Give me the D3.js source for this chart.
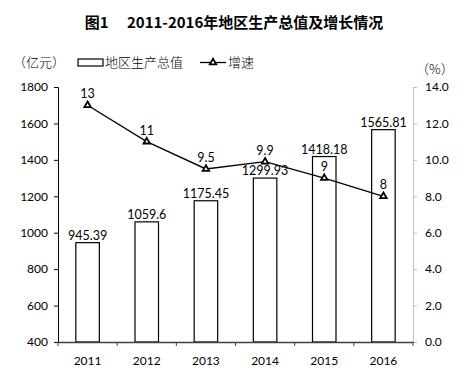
<!DOCTYPE html>
<html>
<head>
<meta charset="utf-8">
<script src="https://cdn.jsdelivr.net/npm/d3@7"></script>
<style>
body{margin:0;background:#fff;}
text{font-family:Lato,"Noto Sans CJK SC",sans-serif;}
</style>
</head>
<body>
<script>
var years = ["2011","2012","2013","2014","2015","2016"];
var gdp = [945.39,1059.6,1175.45,1299.93,1418.18,1565.81];
var growth = [13,11,9.5,9.9,9,8];
var leftTicks = [400,600,800,1000,1200,1400,1600,1800];
var rightTicks = [0,2,4,6,8,10,12,14];

var margin = {left:58,right:55,top:87,bottom:45};
var width = 468, height = 387;
var plotW = width - margin.left - margin.right;
var plotH = height - margin.top - margin.bottom;

var svg = d3.select("body").append("svg").attr("width",width).attr("height",height);

svg.append("text").attr("x",234).attr("y",28).attr("text-anchor","middle")
    .attr("font-size",15).attr("font-weight","bold")
    .style("font-family","'Noto Sans CJK SC',sans-serif")
    .text("图1\u3000 2011-2016年地区生产总值及增长情况");

var g = svg.append("g").attr("transform","translate("+margin.left+","+margin.top+")");

var x = d3.scaleBand().domain(years).range([0,plotW]);
var yL = d3.scaleLinear().domain([400,1800]).range([plotH,0]);
var yR = d3.scaleLinear().domain([0,14]).range([plotH,0]);

// left axis
var la = g.append("g").call(d3.axisLeft(yL).tickValues(leftTicks).tickFormat(d3.format("d")).tickSize(4).tickPadding(6));
la.selectAll("path,line").attr("stroke","#000");
la.selectAll("text").attr("font-size",12).attr("fill","#000");

// right axis
var ra = g.append("g").attr("transform","translate("+plotW+",0)")
    .call(d3.axisRight(yR).tickValues(rightTicks).tickFormat(d3.format(".1f")).tickSize(4).tickPadding(8));
ra.selectAll("path,line").attr("stroke","#bfbfbf");
ra.selectAll("text").attr("font-size",12).attr("fill","#000");

// bars
var bw = 23.5;
g.selectAll("rect.bar").data(gdp).enter().append("rect")
    .attr("x",function(d,i){return x(years[i])+x.bandwidth()/2-bw/2;})
    .attr("y",function(d){return yL(d);})
    .attr("width",bw)
    .attr("height",function(d){return plotH-yL(d);})
    .attr("fill","#fff").attr("stroke","#000").attr("stroke-width",1.2);

g.selectAll("text.bl").data(gdp).enter().append("text")
    .attr("x",function(d,i){return x(years[i])+x.bandwidth()/2;})
    .attr("y",function(d){return yL(d)-3;})
    .attr("text-anchor","middle").attr("font-size",12.5)
    .text(function(d){return d;});

// bottom axis
var ba = g.append("g").attr("transform","translate(0,"+plotH+")")
    .call(d3.axisBottom(x).tickSize(0).tickPadding(14));
ba.select("path").attr("stroke","#404040").attr("stroke-width",1.5);
ba.selectAll("text").attr("font-size",12).attr("fill","#000");
g.selectAll("line.xt").data(d3.range(years.length+1)).enter().append("line")
    .attr("x1",function(d){return d*x.bandwidth();}).attr("x2",function(d){return d*x.bandwidth();})
    .attr("y1",plotH).attr("y2",plotH+4).attr("stroke","#404040");

// line
var line = d3.line().x(function(d,i){return x(years[i])+x.bandwidth()/2;}).y(function(d){return yR(d);});
g.append("path").attr("d",line(growth)).attr("fill","none").attr("stroke","#000").attr("stroke-width",1.3);

var tri = d3.symbol().type(d3.symbolTriangle).size(18);
g.selectAll("path.m").data(growth).enter().append("path")
    .attr("d",tri)
    .attr("transform",function(d,i){return "translate("+(x(years[i])+x.bandwidth()/2)+","+yR(d)+")";})
    .attr("fill","#fff").attr("stroke","#000").attr("stroke-width",1.8);

g.selectAll("text.ll").data(growth).enter().append("text")
    .attr("x",function(d,i){return x(years[i])+x.bandwidth()/2;})
    .attr("y",function(d){return yR(d)-7;})
    .attr("text-anchor","middle").attr("font-size",12.5)
    .text(function(d){return d;});

// legend and units
var cjk = "'Noto Sans CJK SC',sans-serif";
svg.append("text").attr("x",13).attr("y",67).attr("font-size",13).attr("font-weight",300).style("font-family",cjk).text("（亿元）");
svg.append("rect").attr("x",78).attr("y",59).attr("width",25).attr("height",7)
    .attr("fill","#fff").attr("stroke","#000").attr("stroke-width",1.2);
svg.append("text").attr("x",105).attr("y",67).attr("font-size",13).attr("font-weight",300).style("font-family",cjk).text("地区生产总值");
svg.append("line").attr("x1",200).attr("x2",226).attr("y1",62.5).attr("y2",62.5).attr("stroke","#000").attr("stroke-width",1.3);
svg.append("path").attr("d",d3.symbol().type(d3.symbolTriangle).size(18))
    .attr("transform","translate(213,62.5)").attr("fill","#fff").attr("stroke","#000").attr("stroke-width",1.8);
svg.append("text").attr("x",228).attr("y",67).attr("font-size",13).attr("font-weight",300).style("font-family",cjk).text("增速");
svg.append("text").attr("x",416).attr("y",74).attr("font-size",13).attr("font-weight",300).style("font-family",cjk).text("（%）");
</script>
</body>
</html>
